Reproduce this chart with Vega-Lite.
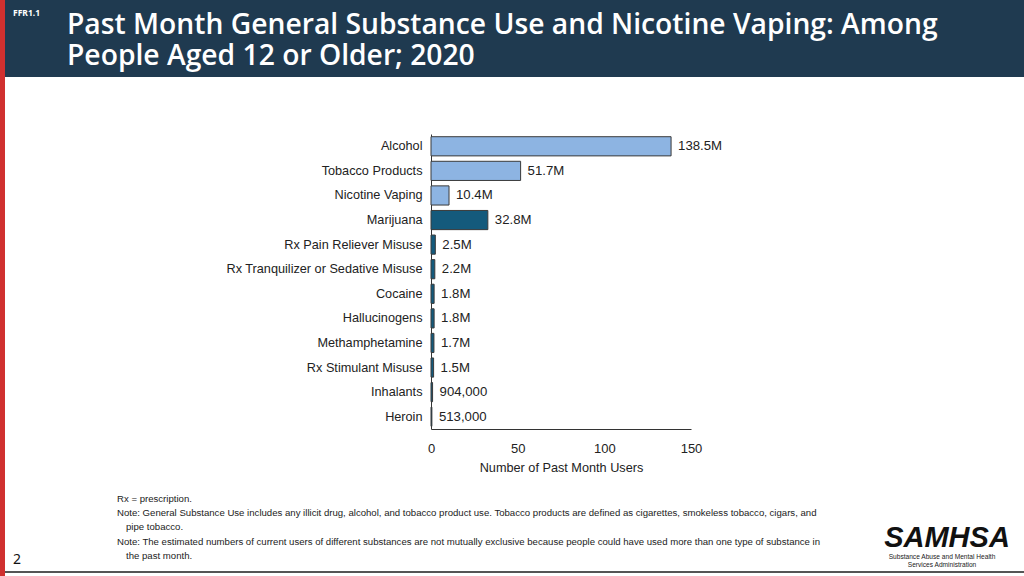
{
  "$schema": "https://vega.github.io/schema/vega-lite/v6.json",
  "width": 260,
  "height": 295,
  "autosize": {"type": "none"},
  "padding": {"left": 431, "top": 134, "right": 333, "bottom": 147},
  "background": "#ffffff",
  "config": {
    "view": {"stroke": null},
    "font": "Liberation Sans, Arial, sans-serif"
  },
  "layer": [
    {
      "data": {"values": [{}]},
      "mark": {"type": "rect", "color": "#1f3a50"},
      "encoding": {"x": {"value": -431}, "x2": {"value": 593}, "y": {"value": -134}, "y2": {"value": -57}}
    },
    {
      "data": {"values": [{}]},
      "mark": {"type": "rect", "color": "#d0302f"},
      "encoding": {"x": {"value": -431}, "x2": {"value": -426}, "y": {"value": -134}, "y2": {"value": 442}}
    },
    {
      "data": {"values": [{}]},
      "mark": {"type": "rule", "color": "#555555", "strokeWidth": 2},
      "encoding": {"x": {"value": -426}, "x2": {"value": 593}, "y": {"value": 438}}
    },
    {
      "data": {"values": [{"t": "FFR1.1"}]},
      "mark": {"type": "text", "font": "Noto Sans", "fontWeight": "bold", "fontSize": 8.5, "color": "#ffffff", "align": "left", "baseline": "alphabetic"},
      "encoding": {"text": {"field": "t"}, "x": {"value": -418}, "y": {"value": -118}}
    },
    {
      "data": {"values": [{"t": ["Past Month General Substance Use and Nicotine Vaping: Among", "People Aged 12 or Older; 2020"]}]},
      "mark": {"type": "text", "font": "Open Sans", "fontWeight": 600, "fontSize": 28.25, "lineHeight": 31, "color": "#ffffff", "align": "left", "baseline": "alphabetic"},
      "encoding": {"text": {"field": "t"}, "x": {"value": -364}, "y": {"value": -100}}
    },
    {
      "data": {"values": [{"t": "Rx = prescription."}]},
      "mark": {"type": "text", "fontSize": 9.6, "color": "#222222", "align": "left", "baseline": "middle"},
      "encoding": {"text": {"field": "t"}, "x": {"value": -314}, "y": {"value": 365}}
    },
    {
      "data": {"values": [{"t": "Note: General Substance Use includes any illicit drug, alcohol, and tobacco product use. Tobacco products are defined as cigarettes, smokeless tobacco, cigars, and"}]},
      "mark": {"type": "text", "fontSize": 9.6, "color": "#222222", "align": "left", "baseline": "middle"},
      "encoding": {"text": {"field": "t"}, "x": {"value": -314}, "y": {"value": 379}}
    },
    {
      "data": {"values": [{"t": "pipe tobacco."}]},
      "mark": {"type": "text", "fontSize": 9.6, "color": "#222222", "align": "left", "baseline": "middle"},
      "encoding": {"text": {"field": "t"}, "x": {"value": -305}, "y": {"value": 393}}
    },
    {
      "data": {"values": [{"t": "Note: The estimated numbers of current users of different substances are not mutually exclusive because people could have used more than one type of substance in"}]},
      "mark": {"type": "text", "fontSize": 9.6, "color": "#222222", "align": "left", "baseline": "middle"},
      "encoding": {"text": {"field": "t"}, "x": {"value": -314}, "y": {"value": 408}}
    },
    {
      "data": {"values": [{"t": "the past month."}]},
      "mark": {"type": "text", "fontSize": 9.6, "color": "#222222", "align": "left", "baseline": "middle"},
      "encoding": {"text": {"field": "t"}, "x": {"value": -305}, "y": {"value": 422}}
    },
    {
      "data": {"values": [{"t": "2"}]},
      "mark": {"type": "text", "font": "Noto Sans", "fontSize": 14, "color": "#111111", "align": "left", "baseline": "middle"},
      "encoding": {"text": {"field": "t"}, "x": {"value": -418}, "y": {"value": 426}}
    },
    {
      "data": {"values": [{"t": "SAMHSA"}]},
      "mark": {"type": "text", "font": "Liberation Sans", "fontWeight": "bold", "fontStyle": "italic", "fontSize": 29, "color": "#111111", "align": "center", "baseline": "alphabetic"},
      "encoding": {"text": {"field": "t"}, "x": {"value": 516}, "y": {"value": 413}}
    },
    {
      "data": {"values": [{"t": "Substance Abuse and Mental Health"}]},
      "mark": {"type": "text", "font": "Liberation Sans", "fontSize": 6.6, "color": "#222222", "align": "center", "baseline": "middle"},
      "encoding": {"text": {"field": "t"}, "x": {"value": 511}, "y": {"value": 423}}
    },
    {
      "data": {"values": [{"t": "Services Administration"}]},
      "mark": {"type": "text", "font": "Liberation Sans", "fontSize": 6.6, "color": "#222222", "align": "center", "baseline": "middle"},
      "encoding": {"text": {"field": "t"}, "x": {"value": 511}, "y": {"value": 431}}
    },
    {
      "data": {"name": "bars"},
      "layer": [
        {
          "mark": {"type": "bar", "stroke": "#3a3a3a", "strokeWidth": 1},
          "encoding": {
            "y": {
              "field": "substance", "type": "nominal", "sort": null,
              "scale": {"paddingInner": 0.22, "paddingOuter": 0.11},
              "axis": {"title": null, "ticks": false, "domainColor": "#333333", "labelFontSize": 12.7, "labelColor": "#222222", "labelPadding": 9, "labelLimit": 0}
            },
            "x": {
              "field": "users", "type": "quantitative",
              "scale": {"domain": [0, 150], "nice": false},
              "axis": {"values": [0, 50, 100, 150], "grid": false, "ticks": false, "labelFlush": false, "domainColor": "#333333", "labelFontSize": 13, "labelColor": "#222222", "labelPadding": 13, "title": "Number of Past Month Users", "titleFontSize": 12.7, "titleFontWeight": "normal", "titleColor": "#222222", "titlePadding": 6}
            },
            "color": {
              "field": "group", "type": "nominal", "legend": null,
              "scale": {"domain": ["light", "dark"], "range": ["#8db4e2", "#145a7c"]}
            }
          }
        },
        {
          "mark": {"type": "text", "align": "left", "baseline": "middle", "dx": 7, "fontSize": 13.2, "color": "#222222"},
          "encoding": {
            "y": {"field": "substance", "type": "nominal", "sort": null},
            "x": {"field": "users", "type": "quantitative"},
            "text": {"field": "label"}
          }
        }
      ]
    }
  ],
  "datasets": {
    "bars": [
      {"substance": "Alcohol", "users": 138.5, "label": "138.5M", "group": "light"},
      {"substance": "Tobacco Products", "users": 51.7, "label": "51.7M", "group": "light"},
      {"substance": "Nicotine Vaping", "users": 10.4, "label": "10.4M", "group": "light"},
      {"substance": "Marijuana", "users": 32.8, "label": "32.8M", "group": "dark"},
      {"substance": "Rx Pain Reliever Misuse", "users": 2.5, "label": "2.5M", "group": "dark"},
      {"substance": "Rx Tranquilizer or Sedative Misuse", "users": 2.2, "label": "2.2M", "group": "dark"},
      {"substance": "Cocaine", "users": 1.8, "label": "1.8M", "group": "dark"},
      {"substance": "Hallucinogens", "users": 1.8, "label": "1.8M", "group": "dark"},
      {"substance": "Methamphetamine", "users": 1.7, "label": "1.7M", "group": "dark"},
      {"substance": "Rx Stimulant Misuse", "users": 1.5, "label": "1.5M", "group": "dark"},
      {"substance": "Inhalants", "users": 0.904, "label": "904,000", "group": "dark"},
      {"substance": "Heroin", "users": 0.513, "label": "513,000", "group": "dark"}
    ]
  }
}
